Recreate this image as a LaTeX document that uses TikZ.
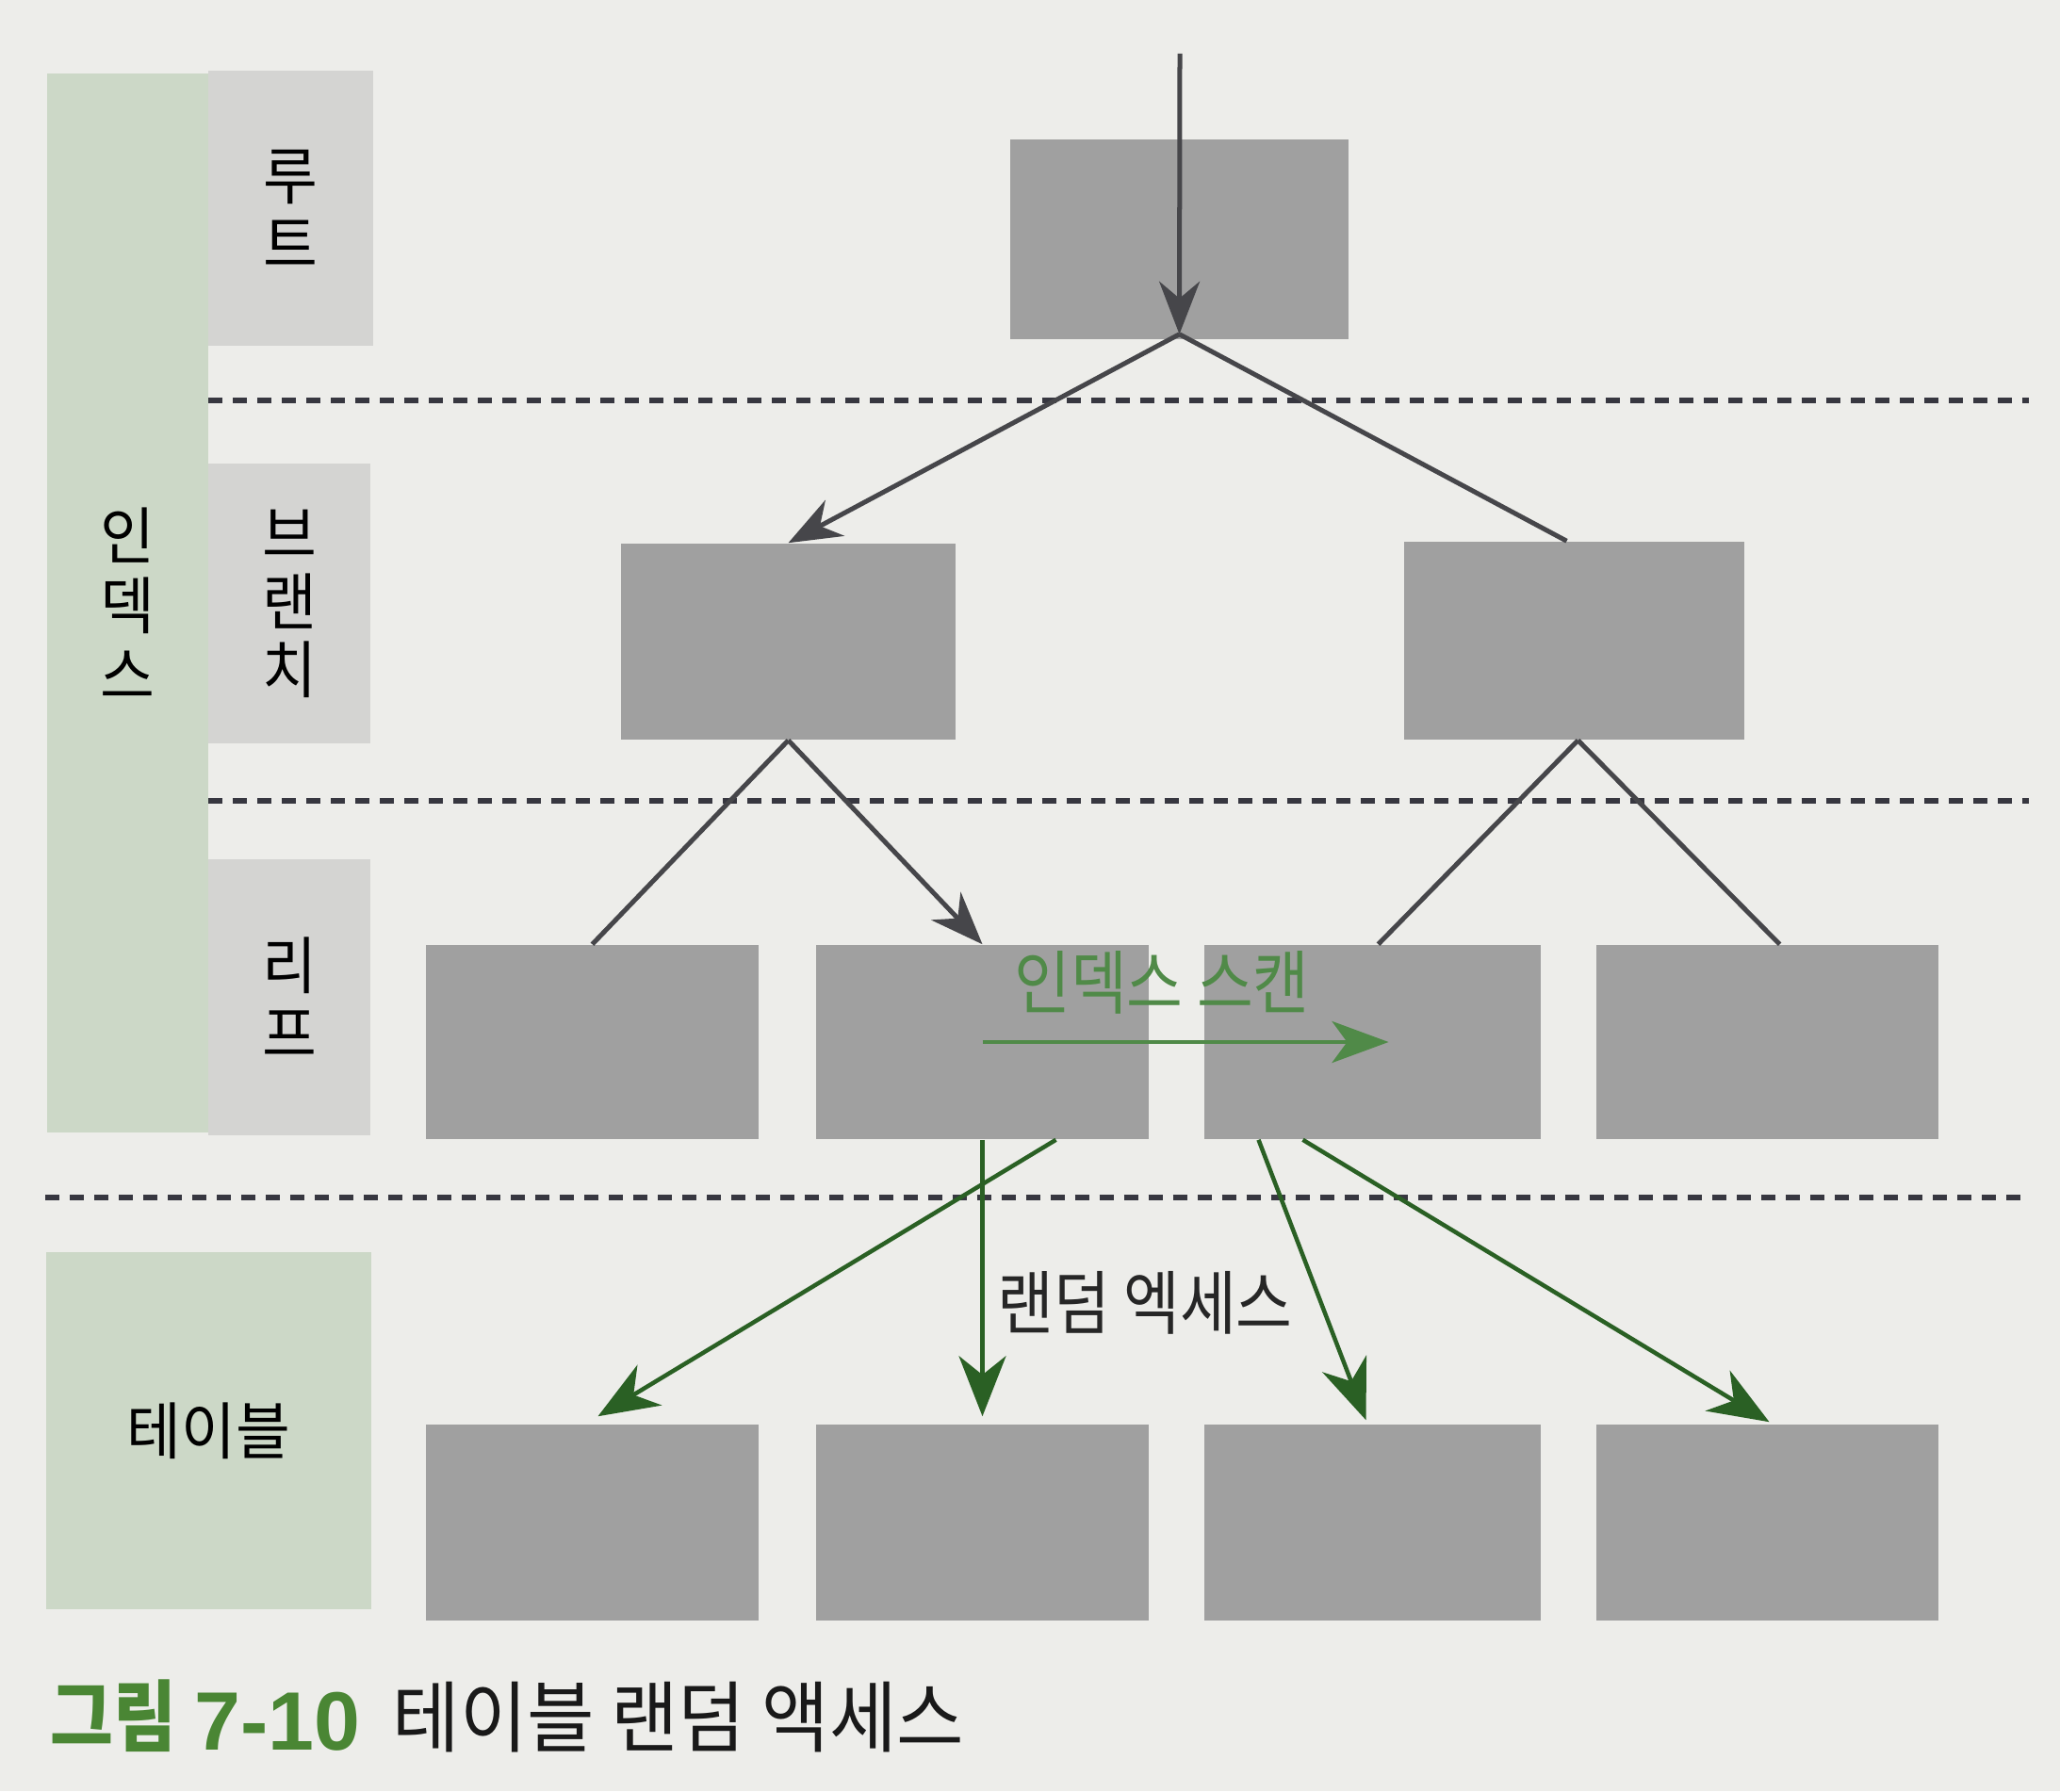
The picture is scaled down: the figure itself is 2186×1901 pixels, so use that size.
\documentclass[tikz,border=0pt]{standalone}
\usepackage{fontspec}
\newfontfamily\krS[FakeStretch=0.95]{Noto Sans CJK KR}
\newfontfamily\krA[FakeStretch=0.88]{Noto Sans CJK KR}
\newfontfamily\krC[FakeStretch=0.94]{Noto Sans CJK KR}
\newfontfamily\krB[FakeStretch=0.88]{Noto Sans CJK KR}
\newfontfamily\libsans{Liberation Sans}
\usetikzlibrary{arrows.meta,calc}
\definecolor{paper}{RGB}{237,237,234}
\definecolor{sage}{RGB}{204,216,199}
\definecolor{lightbox}{RGB}{212,212,210}
\definecolor{darkbox}{RGB}{160,160,160}
\definecolor{lineg}{RGB}{70,70,74}
\definecolor{dashc}{RGB}{55,55,64}
\definecolor{dgreen}{RGB}{42,96,36}
\definecolor{sgreen}{RGB}{80,138,72}
\definecolor{capgreen}{RGB}{74,134,52}
\tikzset{
  blk/.style={fill=darkbox, draw=none, inner sep=0pt},
  sidebox/.style={fill=lightbox, draw=none, inner sep=0pt, align=center,
    font={\krS\fontsize{18.8}{20.5}\selectfont}},
  sagebox/.style={fill=sage, draw=none, inner sep=0pt, align=center,
    font={\krS\fontsize{18.8}{21}\selectfont}},
  sepline/.style={draw=dashc, line width=0.06cm, dash pattern=on 0.15cm off 0.11cm},
  tree/.style={draw=lineg, line width=0.05cm},
  treearrow/.style={tree, -{Stealth[length=0.56cm, width=0.43cm, inset=0.18cm]}},
  rnd/.style={draw=dgreen, line width=0.045cm, -{Stealth[length=0.64cm, width=0.5cm, inset=0.2cm]}},
  scan/.style={draw=sgreen, line width=0.042cm, -{Stealth[length=0.6cm, width=0.44cm, inset=0.16cm]}},
  arrowlbl/.style={inner sep=0pt, font={\krA\fontsize{21}{24}\selectfont}},
}
\begin{document}
\begin{tikzpicture}[x=0.01cm, y=-0.01cm]
\fill[paper] (0,0) rectangle (2186,1901);
\useasboundingbox (0,0) rectangle (2186,1901);

% side labels
\node[sagebox, minimum width=1.71cm, minimum height=11.24cm] (idx) at (135.5,640) {인\\덱\\스};
\node[sidebox, minimum width=1.75cm, minimum height=2.92cm] (rootlbl) at (308.5,221) {루\\트};
\node[sidebox, minimum width=1.72cm, minimum height=2.97cm] (brlbl) at (307,640.5) {브\\랜\\치};
\node[sidebox, minimum width=1.72cm, minimum height=2.93cm] (leaflbl) at (307,1058.5) {리\\프};
\node[sagebox, minimum width=3.45cm, minimum height=3.79cm] (tbllbl) at (221.5,1518.5) {테이블};

% separators
\coordinate (s1a) at (221,425);  \coordinate (s1b) at (2153,425);
\coordinate (s2a) at (221,850);  \coordinate (s2b) at (2153,850);
\coordinate (s3a) at (48,1271);  \coordinate (s3b) at (2150,1271);
\draw[sepline] (s1a) -- (s1b);
\draw[sepline] (s2a) -- (s2b);
\draw[sepline] (s3a) -- (s3b);

% tree boxes
\node[blk, minimum width=3.59cm, minimum height=2.12cm] (root) at (1251.5,254) {};
\node[blk, minimum width=3.55cm, minimum height=2.08cm] (brL) at (836.5,681) {};
\node[blk, minimum width=3.61cm, minimum height=2.10cm] (brR) at (1670.5,680) {};
\node[blk, minimum width=3.53cm, minimum height=2.06cm] (lf1) at (628.5,1106) {};
\node[blk, minimum width=3.53cm, minimum height=2.06cm] (lf2) at (1042.5,1106) {};
\node[blk, minimum width=3.57cm, minimum height=2.06cm] (lf3) at (1456.5,1106) {};
\node[blk, minimum width=3.63cm, minimum height=2.06cm] (lf4) at (1875.5,1106) {};
\node[blk, minimum width=3.53cm, minimum height=2.08cm] (tb1) at (628.5,1616) {};
\node[blk, minimum width=3.53cm, minimum height=2.08cm] (tb2) at (1042.5,1616) {};
\node[blk, minimum width=3.57cm, minimum height=2.08cm] (tb3) at (1456.5,1616) {};
\node[blk, minimum width=3.63cm, minimum height=2.08cm] (tb4) at (1875.5,1616) {};

% tree connectors
\coordinate (entry) at (1252,57);
\draw[treearrow] (entry) -- ($(root.south)+(0,-6)$);
\draw[treearrow] ($(root.south)+(0,-6)$) -- (brL.north);
\draw[tree] ($(root.south)+(0,-6)$) -- ($(brR.north)+(-8,0)$);
\draw[tree] (brL.south) -- (lf1.north);
\draw[treearrow] (brL.south) -- (lf2.north);
\draw[tree] ($(brR.south)+(4,0)$) -- ($(lf3.north)+(6,0)$);
\draw[tree] ($(brR.south)+(4,0)$) -- ($(lf4.north)+(13,0)$);

% index scan
\draw[scan] (lf2.center) -- ($(lf3.center)+(17,0)$);
\node[arrowlbl, text=sgreen] (scanlbl) at (1233,1043) {인덱스 스캔};

% random access
\draw[rnd] ($(lf2.south)+(78,0)$) -- ($(tb1.north)+(6,-8)$);
\draw[rnd] (lf2.south) -- ($(tb2.north)+(0,-8)$);
\draw[rnd] ($(lf3.south)+(-121,0)$) -- ($(tb3.north)+(-7,-4)$);
\draw[rnd] ($(lf3.south)+(-74,0)$) -- ($(tb4.north)+(2,-2)$);
\node[arrowlbl, text=black!85] (rndlbl) at (1215,1383) {랜덤 엑세스};

% caption
\node[inner sep=0pt, anchor=base west, text=capgreen, font={\krB\bfseries\fontsize{23.5}{26}\selectfont}] (cap1) at (53,1852) {그림};
\node[inner sep=0pt, anchor=base west, text=capgreen, font={\libsans\bfseries\fontsize{25}{27}\selectfont}] (cap2) at (206,1857) {7-10};
\node[inner sep=0pt, anchor=base west, text=black!90, font={\krC\fontsize{23.5}{26}\selectfont}] (cap3) at (416,1853) {테이블 랜덤 액세스};
\end{tikzpicture}
\end{document}
